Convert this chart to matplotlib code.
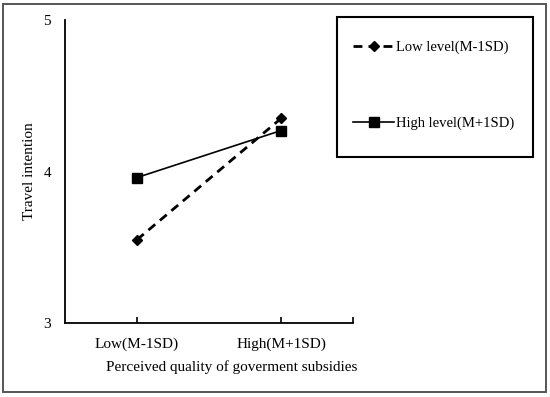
import matplotlib.pyplot as plt
from matplotlib.patches import Rectangle
from matplotlib.ticker import FixedLocator

plt.rcParams['font.family'] = ['Liberation Serif', 'DejaVu Serif']

categories = ['Low(M-1SD)', 'High(M+1SD)']
low_level = [3.55, 4.35]
high_level = [3.96, 4.27]
y_ticks = [3, 4, 5]


def draw_chart():
    fig = plt.figure(figsize=(5.5, 3.97), dpi=100)
    ax = fig.add_axes([0.118, 0.186, 0.524, 0.764])

    x = list(range(len(categories)))
    ax.plot(x, low_level, color='black', linestyle=(0, (3.2, 2.2)), linewidth=2.0,
            marker='D', markersize=5, label='Low level(M-1SD)')
    ax.plot(x, high_level, color='black', linestyle='-', linewidth=1.2,
            marker='s', markersize=6.5, label='High level(M+1SD)')

    ax.set_xlim(-0.5, 1.5)
    ax.set_ylim(3, 5)
    ax.set_xticks(x)
    ax.set_xticklabels(categories)
    ax.xaxis.set_minor_locator(FixedLocator([1.5]))
    ax.set_yticks(y_ticks)
    ax.yaxis.set_minor_locator(FixedLocator([4.0, 5.0]))

    for s in ['top', 'right']:
        ax.spines[s].set_visible(False)
    for s in ['left', 'bottom']:
        ax.spines[s].set_linewidth(1.3)

    ax.tick_params(axis='x', which='both', direction='in', length=4, width=1.2,
                   labelsize=11, pad=10)
    ax.tick_params(axis='y', which='major', direction='in', length=0, labelsize=11, pad=10)
    ax.tick_params(axis='y', which='minor', direction='in', length=4, width=1.2)

    ax.set_ylabel('Travel intention', fontsize=11)
    ax.yaxis.set_label_coords(-0.10, 0.5)
    ax.set_xlabel('Perceived quality of goverment subsidies', fontsize=11)
    ax.xaxis.set_label_coords(0.58, -0.123)

    # legend entries without frame, box drawn separately
    ax.legend(loc='upper left', bbox_to_anchor=(0.642, 0.897),
              bbox_transform=fig.transFigure, fontsize=10.5, frameon=False,
              handlelength=2.8, handletextpad=0.15, labelspacing=4.25,
              borderpad=0, borderaxespad=0)
    fig.patches.append(Rectangle((0.613, 0.605), 0.356, 0.352, transform=fig.transFigure,
                                 fill=False, edgecolor='black', linewidth=1.5))

    # outer figure border
    fig.patches.append(Rectangle((0.006, 0.013), 0.986, 0.977, transform=fig.transFigure,
                                 fill=False, edgecolor='#555555', linewidth=1.4))

    plt.savefig('out.png', dpi=100)


if __name__ == "__main__":
    draw_chart()
